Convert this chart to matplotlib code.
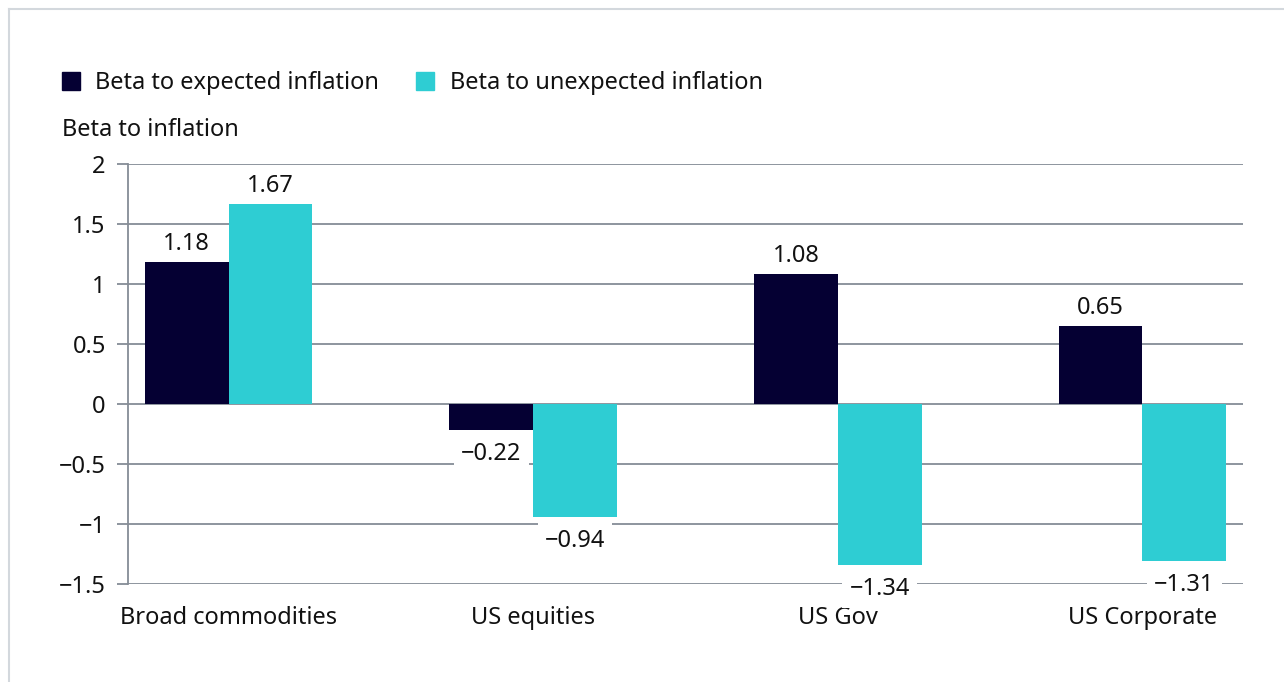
import numpy as np
import matplotlib.pyplot as plt
from matplotlib.lines import Line2D

categories = ['Broad commodities', 'US equities', 'US Gov', 'US Corporate']
expected = [1.18, -0.22, 1.08, 0.65]
unexpected = [1.67, -0.94, -1.34, -1.31]
series_names = ['Beta to expected inflation', 'Beta to unexpected inflation']
yticks = [2, 1.5, 1, 0.5, 0, -0.5, -1, -1.5]

dark = '#050033'
cyan = '#2ecdd3'
grid = '#858c96'

plt.rcParams['font.family'] = ['Noto Sans', 'DejaVu Sans']
plt.rcParams['text.color'] = '#111111'
fs = 17

W, H = 1284, 682
fig = plt.figure(figsize=(W / 100, H / 100), dpi=100)
ax = fig.add_axes([128 / W, (H - 584) / H, (1243 - 128) / W, (584 - 164) / H])

x = np.arange(len(categories))
bw = 0.275
b1 = ax.bar(x - bw / 2, expected, bw, color=dark, zorder=3)
b2 = ax.bar(x + bw / 2, unexpected, bw, color=cyan, zorder=3)

ax.set_ylim(-1.5, 2)
ax.set_xlim(-0.33, 3.33)
ax.set_yticks(yticks)
ax.set_yticklabels([('\u2212' + f'{abs(v):g}') if v < 0 else f'{v:g}' for v in yticks])
ax.set_xticks(x)
ax.set_xticklabels(categories)
ax.tick_params(axis='y', length=8, width=1.3, color=grid, labelsize=fs, pad=8, labelcolor='#111111')
ax.tick_params(axis='x', length=0, labelsize=fs, pad=16, labelcolor='#111111')
ax.grid(axis='y', color=grid, linewidth=1.3, zorder=0)
for s in ['top', 'right', 'bottom']:
    ax.spines[s].set_visible(False)
ax.spines['left'].set_color(grid)
ax.spines['left'].set_linewidth(1.3)

def fmt(v):
    return ('\u2212' if v < 0 else '') + f'{abs(v):.2f}'

# value labels sit under the bars so their white boxes only hide gridlines
for bars, vals in [(b1, expected), (b2, unexpected)]:
    for r, v in zip(bars, vals):
        off = 18 if v >= 0 else -24
        ax.annotate(fmt(v), (r.get_x() + r.get_width() / 2, v), xytext=(0, off),
                    textcoords='offset pixels',
                    ha='center', va='center', fontsize=fs, zorder=2.5,
                    bbox=dict(boxstyle='square,pad=0.3', fc='white', ec='none'))

# legend and axis title
fig.patches.append(plt.Rectangle((62 / W, (H - 90) / H), 18 / W, 18 / H,
                                 transform=fig.transFigure, color=dark))
fig.text(95 / W, (H - 83) / H, series_names[0], fontsize=fs, va='center')
fig.patches.append(plt.Rectangle((416 / W, (H - 90) / H), 18 / W, 18 / H,
                                 transform=fig.transFigure, color=cyan))
fig.text(450 / W, (H - 83) / H, series_names[1], fontsize=fs, va='center')
fig.text(62 / W, (H - 130) / H, 'Beta to inflation', fontsize=fs, va='center')

# frame
fig.add_artist(Line2D([9 / W, 1], [(H - 9) / H] * 2, color='#d3d8dd', lw=1.5))
fig.add_artist(Line2D([9 / W] * 2, [0, (H - 9) / H], color='#d3d8dd', lw=1.5))

fig.savefig('out.png', dpi=100)
